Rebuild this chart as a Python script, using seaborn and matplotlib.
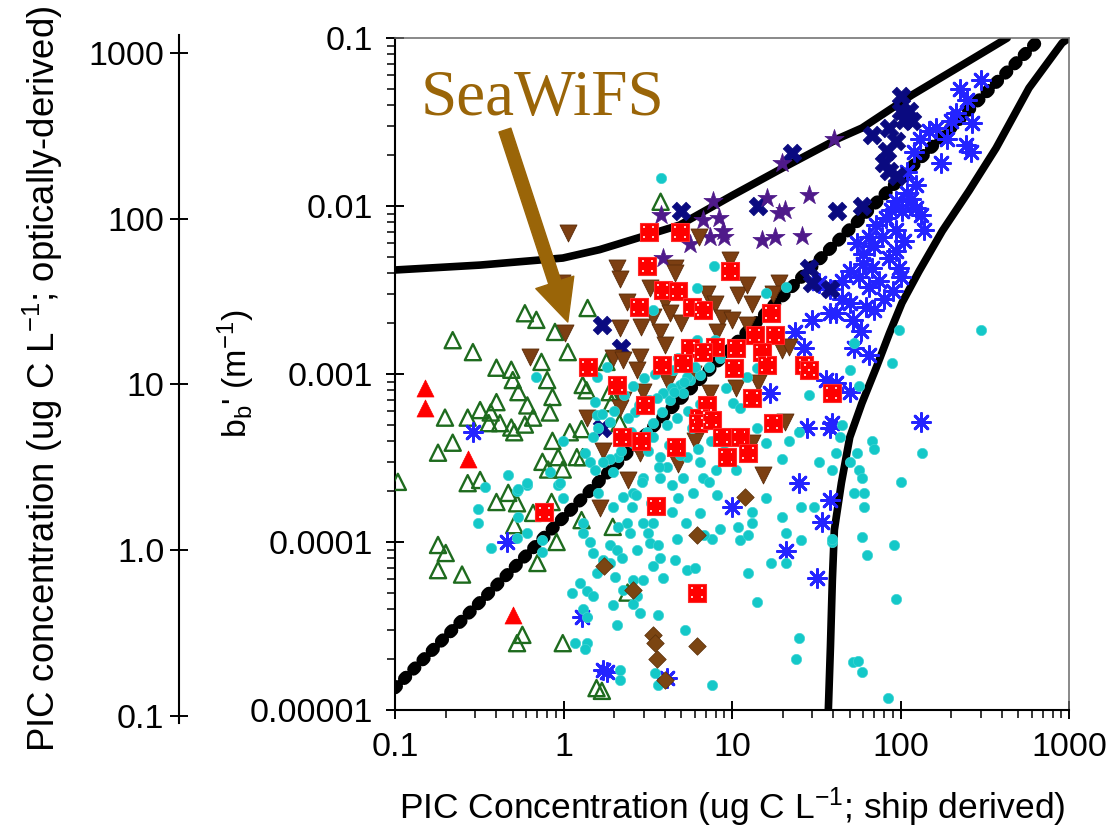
import matplotlib
matplotlib.use("Agg")
import matplotlib.pyplot as plt
import seaborn as sns
from matplotlib.path import Path
from matplotlib.ticker import FixedLocator, FixedFormatter, LogLocator, NullFormatter, NullLocator

# ---------------- data ----------------
cyan_x = [3.77, 7.77, 6.16, 16.0, 21.0, 3.38, 6.16, 7.88, 8.43, 7.35, 6.42, 5.6, 4.89, 4.38, 3.87, 4.26, 5.09,
          12.2, 14.0, 9.27, 10.1, 11.1, 3.82, 3.38, 3.11, 2.64, 2.57, 2.1, 1.88, 1.96, 3.16, 3.72, 4.09, 5.37,
          6.42, 8.09, 10.6, 5.09, 3.72, 2.95, 6.69, 21.9, 16.0, 33.0, 39.4, 28.8, 14.0, 25.1, 19.9, 10.1, 4.44,
          5.37, 1.80, 2.91, 4.38, 2.57, 2.24, 1.96, 2.54, 4.75, 5.83, 7.35, 8.2, 6.42, 2.37, 2.95, 3.38, 2.1,
          2.47, 3.16, 1.88, 2.07, 2.72, 3.24, 3.62, 4.69, 7.56, 8.43, 10.8, 13.1, 13.1, 11.1, 12.4, 16.0, 19.7,
          21.0, 25.8, 30.8, 25.8, 1.88, 2.21, 3.72, 3.38, 4.56, 5.37, 6.0, 2.01, 2.57, 2.95, 3.87, 2.24, 2.72,
          1.96, 2.57, 2.83, 3.62, 2.07, 5.23, 12.4, 14.0, 17.1, 21.0, 25.1, 24.1, 2.15, 2.15, 3.47, 3.62, 7.66,
          39.4, 0.31, 0.31, 0.34, 0.53, 0.61, 0.93, 0.99, 0.54, 0.61, 0.53, 0.37, 0.75, 0.75, 1.30, 1.43, 1.49,
          1.57, 1.12, 1.25, 1.37, 1.49, 1.30, 1.37, 1.17, 1.37, 1.34, 1.71, 1.30, 1.6, 0.69, 1.57, 1.53, 1.57,
          1.6, 0.99, 1.34, 1.43, 1.53, 1.71, 0.47, 0.61, 0.83, 0.95, 0.54, 98.0, 301.0, 89.0, 53.0, 50.0, 57.0,
          68.0, 70.0, 55.0, 41.6, 45.0, 44.0, 135.0, 101.0, 57.0, 59.0, 50.0, 53.0, 61.0, 61.0, 59.0, 63.0,
          92.0, 94.0, 52.0, 56.0, 59.0, 84.6, 39.4,
          2.3, 2.6, 3.0, 3.5, 4.0, 4.8, 3.2, 2.8, 3.6, 4.5, 5.2, 6.0, 2.0, 2.4, 4.1, 4.7, 5.5, 6.5, 2.5, 3.4,
          4.2, 5.8, 7.0, 8.0, 1.9, 1.7, 2.2, 3.7, 4.9, 6.3, 7.5, 9.0, 1.5, 2.7, 3.3, 4.4, 5.3, 6.8]
cyan_y = [0.0147, 0.0044, 0.00325, 0.00303, 0.0033, 0.0024, 0.00159, 0.00159, 0.00125, 0.0011, 0.00099,
          0.00092, 0.00086, 0.00083, 0.00077, 0.0007, 0.00077, 0.00096, 0.00109, 0.00083, 0.00067, 0.00063,
          0.00059, 0.00051, 0.00045, 0.00059, 0.00039, 0.00032, 0.00031, 0.00026, 0.00035, 0.00032, 0.00028,
          0.00032, 0.0003, 0.00027, 0.00027, 0.00024, 0.00024, 0.00024, 0.00024, 0.0004, 0.00039, 0.0003,
          0.00027, 0.00075, 0.00048, 0.00045, 0.00031, 0.0004, 0.00106, 0.00096, 0.0011, 0.000228, 0.000218,
          0.000196, 0.000185, 0.000162, 0.000162, 0.000183, 0.000196, 0.000228, 0.00019, 0.000149, 0.00013,
          0.00013, 0.00013, 0.000123, 0.000113, 0.000113, 9.6e-5, 9.0e-5, 9.0e-5, 9.9e-5, 9.6e-5, 0.000104,
          0.000104, 0.00012, 0.000123, 0.00013, 0.000151, 0.000103, 0.00011, 0.000183, 0.00014, 0.000113,
          0.000162, 0.000162, 0.000103, 7.5e-5, 8.0e-5, 8.0e-5, 7.2e-5, 7.8e-5, 6.8e-5, 7.0e-5, 6.2e-5, 5.9e-5,
          5.9e-5, 6.1e-5, 5.2e-5, 4.8e-5, 4.2e-5, 4.3e-5, 3.8e-5, 3.7e-5, 3.2e-5, 3.0e-5, 6.5e-5, 4.4e-5,
          7.5e-5, 7.5e-5, 2.7e-5, 2.0e-5, 1.73e-5, 1.5e-5, 1.66e-5, 1.41e-5, 1.41e-5, 1.0e-4, 0.000157,
          0.00013, 0.000212, 0.0002, 0.000218, 0.000218, 0.000183, 0.00014, 0.000113, 0.000106, 9.2e-5,
          0.000103, 8.7e-5, 0.000113, 1.0e-4, 8.6e-5, 6.5e-5, 5.0e-5, 5.7e-5, 5.1e-5, 4.8e-5, 4.0e-5, 3.6e-5,
          2.5e-5, 2.5e-5, 2.3e-5, 7.8e-5, 0.00013, 0.000196, 0.00096, 0.00096, 0.00068, 0.00057, 0.00048,
          0.0004, 0.00034, 0.0003, 0.00027, 0.0003, 0.00025, 0.000224, 0.00026, 0.000224, 0.000206, 0.00183,
          0.00183, 0.00116, 0.00153, 0.00106, 0.00085, 0.0004, 0.00036, 0.00034, 0.00034, 0.0005, 0.00042,
          0.00034, 0.000228, 0.00027, 0.00024, 0.0003, 0.000196, 0.000196, 0.000162, 0.000107, 8.4e-5, 9.6e-5,
          4.6e-5, 1.93e-5, 1.97e-5, 1.68e-5, 1.18e-5, 0.000104,
          0.00075, 0.00085, 0.00095, 0.0010, 0.0011, 0.00125, 0.0007, 0.00065, 0.00072, 0.00078, 0.0009,
          0.0011, 0.0006, 0.00055, 0.0005, 0.00055, 0.0006, 0.00066, 0.00045, 0.00042, 0.00038, 0.00048,
          0.0005, 0.00055, 0.00052, 0.00058, 0.00035, 0.00028, 0.00033, 0.00036, 0.0004, 0.00035, 0.00042,
          0.00019, 0.00017, 0.00015, 0.00013, 0.00011]

green_x = [3.77, 0.59, 0.69, 0.89, 1.39, 0.22, 0.29, 1.06, 0.74, 0.40, 0.49, 0.50, 0.80, 0.54, 1.30, 1.37,
           0.86, 0.40, 0.61, 0.32, 0.37, 0.198, 0.27, 0.66, 0.83, 0.36, 0.42, 0.59, 0.49, 0.51, 1.09, 1.28,
           0.22, 0.86, 0.18, 0.75, 0.93, 1.2, 1.30, 0.81, 0.99, 0.104, 0.27, 0.32, 0.40, 0.47, 0.53, 0.51,
           1.28, 0.91, 0.18, 0.20, 0.18, 0.25, 0.70, 0.57, 0.53, 0.99, 1.57, 0.85, 0.66, 1.96, 2.4, 1.69,
           1.80, 1.88, 1.93, 2.15]
green_y = [0.0106, 0.0023, 0.0021, 0.00178, 0.00247, 0.00159, 0.00135, 0.00135, 0.00118, 0.00109, 0.00106,
           0.00092, 0.00092, 0.00078, 0.00086, 0.0008, 0.00073, 0.00068, 0.00065, 0.00061, 0.00059, 0.00055,
           0.00055, 0.00055, 0.00059, 0.00051, 0.00051, 0.0005, 0.00048, 0.00045, 0.00045, 0.00047, 0.00039,
           0.0004, 0.00034, 0.0003, 0.00032, 0.00032, 0.00032, 0.00027, 0.00027, 0.000228, 0.000224,
           0.000234, 0.000173, 0.000196, 0.00017, 0.000126, 0.000135, 0.0001, 9.6e-5, 8.6e-5, 6.8e-5, 6.4e-5,
           7.5e-5, 2.8e-5, 2.5e-5, 2.5e-5, 1.35e-5, 0.000173, 0.000149, 0.000123, 5.0e-5, 1.3e-5, 0.00118,
           0.00078, 0.00067, 0.00051]

brown_tri_x = [6.4, 9.7, 2.07, 4.56, 0.63, 1.02, 0.98, 1.37, 1.71, 2.15, 4.56, 3.24, 2.37, 3.98, 7.06, 10.8,
               12.2, 19.1, 17.4, 13.1, 7.9, 8.7, 10.0, 3.38, 4.27, 2.9, 5.0, 3.72, 2.15, 3.98, 8.1, 12.2, 19.7,
               21.9, 1.96, 2.83, 2.24, 2.72, 4.15, 5.83, 10.6, 14.2, 2.95, 7.4, 2.24, 2.15, 2.83, 6.0, 4.75,
               2.4, 15.2, 20.5, 13.2, 1.64, 1.06]
brown_tri_y = [0.0065, 0.0048, 0.0043, 0.0043, 0.00126, 0.00175, 0.0035, 0.00055, 0.00035, 0.0037, 0.004,
               0.00325, 0.0027, 0.0027, 0.003, 0.00295, 0.0034, 0.0035, 0.003, 0.0026, 0.0026, 0.00215,
               0.0021, 0.00218, 0.0023, 0.0019, 0.002, 0.00178, 0.00188, 0.00149, 0.00178, 0.00196, 0.00139,
               0.00145, 0.00125, 0.00126, 0.00121, 0.00106, 0.0009, 0.001, 0.00083, 0.00088, 0.00078, 0.00077,
               0.0007, 0.00063, 0.00034, 0.0004, 0.00029, 0.000234, 0.00025, 0.00052, 0.00039, 0.00016, 0.0069]

red_sq_x = [3.2, 4.9, 3.15, 9.7, 3.87, 4.75, 2.79, 5.75, 6.7, 17.1, 13.6, 17.9, 5.6, 7.9, 10.6, 6.7, 15.0,
            3.82, 5.1, 10.3, 16.2, 26.9, 28.8, 2.07, 13.1, 39.0, 3.03, 7.06, 6.4, 6.25, 7.56, 17.4, 2.21, 2.9,
            8.7, 11.1, 4.63, 12.4, 9.3, 1.39, 0.77, 3.52, 6.2]
red_sq_y = [0.0070, 0.0070, 0.0044, 0.0041, 0.00316, 0.0031, 0.0025, 0.0025, 0.0024, 0.0023, 0.0017, 0.0017,
            0.00143, 0.00145, 0.00143, 0.00135, 0.00135, 0.00113, 0.00116, 0.00109, 0.00113, 0.00113,
            0.00106, 0.00086, 0.00072, 0.00077, 0.00065, 0.00065, 0.00055, 0.00051, 0.00053, 0.00051,
            0.00042, 0.0004, 0.00042, 0.00042, 0.00037, 0.00034, 0.00032, 0.0011, 0.00015, 0.000164, 5.0e-5]

blue_x = [301, 249, 214, 266, 148, 163, 245, 262, 174, 124, 110, 124, 94, 102, 82, 72, 94, 78, 105, 65, 94,
          55, 50, 68, 98, 133, 138, 45, 57, 65, 50, 62, 41.6, 52, 101, 53, 65, 41.6, 50, 133, 39, 33, 38, 30,
          38, 23.5, 26.9, 36, 16.7, 28, 38, 25, 10, 34, 21, 32, 38, 1.8, 4.1, 0.46, 1.28, 1.71, 0.29,
          70, 85, 60, 75, 90, 80, 110, 120, 130, 190, 200, 225, 88, 115, 60, 45, 70, 58]
blue_y = [0.056, 0.043, 0.036, 0.031, 0.028, 0.029, 0.023, 0.021, 0.018, 0.0133, 0.0119, 0.0097, 0.0107,
          0.0093, 0.0085, 0.0077, 0.0072, 0.0065, 0.0062, 0.0065, 0.0054, 0.006, 0.0041, 0.0043, 0.0043,
          0.0088, 0.0072, 0.0036, 0.0038, 0.0033, 0.00265, 0.0025, 0.0023, 0.0021, 0.0038, 0.00143, 0.0013,
          0.00088, 0.00078, 0.00052, 0.00051, 0.0035, 0.0032, 0.0021, 0.0023, 0.00178, 0.00143, 0.00092,
          0.00077, 0.00048, 0.00048, 0.000224, 0.000161, 0.000131, 8.9e-5, 6.1e-5, 0.000178, 1.68e-5,
          1.55e-5, 1.0e-4, 3.6e-5, 1.73e-5, 0.00045,
          0.0058, 0.0049, 0.0052, 0.0036, 0.0031, 0.0028, 0.016, 0.021, 0.025, 0.025, 0.032, 0.05, 0.0095,
          0.011, 0.0045, 0.0028, 0.0024, 0.0018]

navy_x = [22.8, 14.2, 5.0, 28.8, 113, 117, 86, 68, 94, 83, 80, 86, 59, 42, 105, 101, 1.7, 2.2, 30, 38, 1.7,
          100, 95]
navy_y = [0.0207, 0.01, 0.0093, 0.0043, 0.037, 0.032, 0.029, 0.0265, 0.0244, 0.0212, 0.018, 0.0161, 0.01,
          0.0093, 0.0325, 0.037, 0.00196, 0.00143, 0.0035, 0.0032, 0.00048, 0.045, 0.015]

purple_x = [19.7, 28.8, 7.7, 3.8, 16.2, 20.5, 19.1, 6.7, 8.4, 8.8, 9.0, 7.4, 5.6, 15.0, 17.9, 26.2, 3.9, 40.5]
purple_y = [0.018, 0.0116, 0.0107, 0.0088, 0.0112, 0.0095, 0.0091, 0.0083, 0.0085, 0.0071, 0.0065, 0.0065,
            0.0059, 0.0063, 0.0065, 0.0066, 0.0049, 0.025]

red_tri_x = [0.15, 0.15, 0.27, 0.5]
red_tri_y = [8.2e-4, 6.3e-4, 3.1e-4, 3.7e-5]

diamond_x = [6.2, 11.9, 1.75, 2.6, 3.4, 3.5, 3.6, 4.0, 6.2]
diamond_y = [1.1e-4, 1.85e-4, 7.2e-5, 5.2e-5, 2.8e-5, 2.5e-5, 2.0e-5, 1.5e-5, 2.4e-5]

# model curves
upper_x = [0.1, 0.32, 0.99, 1.64, 2.83, 4.89, 10.1, 19.9, 43.4, 59, 117, 232, 430]
upper_y = [0.00416, 0.00445, 0.0049, 0.0055, 0.0065, 0.0077, 0.0116, 0.0168, 0.0254, 0.0291, 0.0458, 0.069, 0.1]
middle_x = [0.1, 10, 680]
middle_y = [1.35e-5, 1.45e-3, 0.1]
right_x = [1000, 910, 579, 369, 255, 177, 129, 102, 86, 72, 59, 50, 44.6, 40.5, 39.4, 38.4, 37.3]
right_y = [0.1, 0.0934, 0.0504, 0.0221, 0.0123, 0.0071, 0.0041, 0.00265, 0.00175, 0.0011, 0.00067, 0.00042,
           0.000225, 0.000118, 5.9e-5, 2.4e-5, 1.0e-5]

x_ticks = [0.1, 1, 10, 100, 1000]
x_tick_labels = ["0.1", "1", "10", "100", "1000"]
y_ticks = [1e-5, 1e-4, 1e-3, 1e-2, 1e-1]
y_tick_labels = ["0.00001", "0.0001", "0.001", "0.01", "0.1"]
pic_ticks = [0.1, 1, 10, 100, 1000]
pic_tick_labels = ["0.1", "1.0", "10", "100", "1000"]

# annotation
label_text = "SeaWiFS"
label_pos = (0.141, 0.0348)
arrow_tail = (0.449, 0.0283)
arrow_tip = (1.06, 0.00204)

# ---------------- style ----------------
sns.set_theme(style="white")
plt.rcParams['font.family'] = ['Liberation Sans', 'DejaVu Sans']
plt.rcParams['mathtext.fontset'] = 'custom'
plt.rcParams['mathtext.rm'] = 'Liberation Sans'
plt.rcParams['mathtext.it'] = 'Liberation Sans:italic'
plt.rcParams['mathtext.bf'] = 'Liberation Sans:bold'

W, H = 1114, 830
fig = plt.figure(figsize=(W / 100, H / 100), dpi=100)
ax = fig.add_axes([395 / W, (H - 710) / H, (1069 - 395) / W, (710 - 38) / H])
ax.set_xscale('log')
ax.set_yscale('log')
ax.set_xlim(0.1, 1000)
ax.set_ylim(1e-5, 0.1)

# curves
sns.lineplot(x=upper_x, y=upper_y, ax=ax, sort=False, estimator=None, color='black', linewidth=5.5,
             solid_capstyle='round', solid_joinstyle='round', zorder=2, legend=False)
sns.lineplot(x=right_x, y=right_y, ax=ax, sort=False, estimator=None, color='black', linewidth=5.5,
             solid_capstyle='round', solid_joinstyle='round', zorder=2, legend=False)
n_before = len(ax.lines)
sns.lineplot(x=middle_x, y=middle_y, ax=ax, sort=False, estimator=None, color='black', linewidth=9,
             zorder=2, legend=False)
for ln in ax.lines[n_before:]:
    ln.set_linewidth(9)
    ln.set_linestyle((0, (0.2, 0.85)))
    ln.set_dash_capstyle('round')


def scat(x, y, **kw):
    sns.scatterplot(x=x, y=y, ax=ax, legend=False, **kw)


scat(green_x, green_y, marker='^', s=135, facecolor='none', edgecolor='#1E6B1E', linewidth=1.7, zorder=3)
scat(blue_x, blue_y, marker=(8, 2, 0), s=170, color='#2424FF', edgecolor='#2424FF', linewidth=2.0, zorder=3)
scat(navy_x, navy_y, marker='X', s=180, color='#0A0A80', edgecolor='#0A0A80', linewidth=0.5, zorder=3)
scat(purple_x, purple_y, marker='*', s=210, color='#4F1A8A', edgecolor='#4F1A8A', linewidth=0.5, zorder=3)
scat(brown_tri_x, brown_tri_y, marker='v', s=150, color='#7C3F12', edgecolor='#5A2C0A', linewidth=0.6, zorder=4)
scat(cyan_x, cyan_y, marker='o', s=55, color='#14C8C8', edgecolor='#40D4D4', linewidth=0.5, zorder=4)
scat(red_sq_x, red_sq_y, marker='s', s=155, color='#FF0000', edgecolor='#FF2A2A', linewidth=0.8, zorder=5)
# little white dots inside red squares
d = 0.06
dots = []
codes = []
for cx, cy in [(-0.3, -0.3), (0.3, -0.3), (-0.3, 0.3), (0.3, 0.3)]:
    dots += [(cx - d, cy - d), (cx + d, cy - d), (cx + d, cy + d), (cx - d, cy + d), (cx - d, cy - d)]
    codes += [Path.MOVETO, Path.LINETO, Path.LINETO, Path.LINETO, Path.CLOSEPOLY]
dot_marker = Path(dots, codes)
scat(red_sq_x, red_sq_y, marker=dot_marker, s=70, color='#FFC8C8', edgecolor='none', linewidth=0, zorder=6)
scat(diamond_x, diamond_y, marker='D', s=80, color='#7B4512', edgecolor='#5A300A', linewidth=0.5, zorder=5)
scat(red_tri_x, red_tri_y, marker='^', s=150, color='#FF0000', edgecolor='#FF0000', linewidth=0.5, zorder=5)

# SeaWiFS annotation
brown = '#9A6508'
ax.text(label_pos[0], label_pos[1], label_text, fontsize=47, family=['Liberation Serif', 'DejaVu Serif'],
        color=brown, ha='left', va='baseline', zorder=7)
ax.annotate('', xy=arrow_tip, xytext=arrow_tail,
            arrowprops=dict(arrowstyle='simple,head_length=1.2,head_width=1.15,tail_width=0.36',
                            color=brown, mutation_scale=25, shrinkA=0, shrinkB=0), zorder=7)

# main axes ticks / spines
ax.xaxis.set_major_locator(FixedLocator(x_ticks))
ax.xaxis.set_major_formatter(FixedFormatter(x_tick_labels))
ax.yaxis.set_major_locator(FixedLocator(y_ticks))
ax.yaxis.set_major_formatter(FixedFormatter(y_tick_labels))
ax.xaxis.set_minor_locator(LogLocator(base=10, subs=range(2, 10), numticks=20))
ax.yaxis.set_minor_locator(LogLocator(base=10, subs=range(2, 10), numticks=20))
ax.xaxis.set_minor_formatter(NullFormatter())
ax.yaxis.set_minor_formatter(NullFormatter())
ax.tick_params(which='both', left=True, bottom=True, top=False, right=False, colors='black')
ax.tick_params(which='major', direction='inout', length=13, width=1.4, labelsize=24.5)
ax.tick_params(axis='y', which='major', pad=9)
ax.tick_params(axis='x', which='major', pad=9)
ax.tick_params(which='minor', direction='out', length=6, width=1.1)
for s in ['left', 'bottom']:
    ax.spines[s].set_color('black')
    ax.spines[s].set_linewidth(1.5)
for s in ['top', 'right']:
    ax.spines[s].set_color('#6a6a6a')
    ax.spines[s].set_linewidth(1.1)

ax.set_xlabel("PIC Concentration (ug C L$^{-1}$; ship derived)", fontsize=25.5, color='black')
ax.xaxis.set_label_coords(0.5, -0.112)
ax.xaxis.label.set_va('top')
ax.set_ylabel("b$_{\\mathrm{b}}$' (m$^{-1}$)", fontsize=24.5, color='black')
ax.yaxis.set_label_coords(-0.205, 0.5)

# secondary (optically-derived) axis on the far left
ax2 = fig.add_axes([179 / W, (H - 723) / H, 100 / W, (723 - 35) / H])
ax2.set_yscale('log')
ax2.set_ylim(0.0907, 1284)
ax2.patch.set_visible(False)
for s in ['top', 'right', 'bottom']:
    ax2.spines[s].set_visible(False)
ax2.spines['left'].set_color('black')
ax2.spines['left'].set_linewidth(1.5)
ax2.xaxis.set_major_locator(NullLocator())
ax2.yaxis.set_major_locator(FixedLocator(pic_ticks))
ax2.yaxis.set_major_formatter(FixedFormatter(pic_tick_labels))
ax2.yaxis.set_minor_locator(NullLocator())
ax2.tick_params(axis='y', which='major', left=True, direction='inout', length=13, width=1.4,
                labelsize=24.5, pad=4, colors='black')
ax2.set_ylabel("PIC concentration (ug C L$^{-1}$; optically-derived)", fontsize=26.3, color='black')
ax2.yaxis.set_label_coords(-1.14, 0.5)

fig.savefig("out.png", dpi=100)
